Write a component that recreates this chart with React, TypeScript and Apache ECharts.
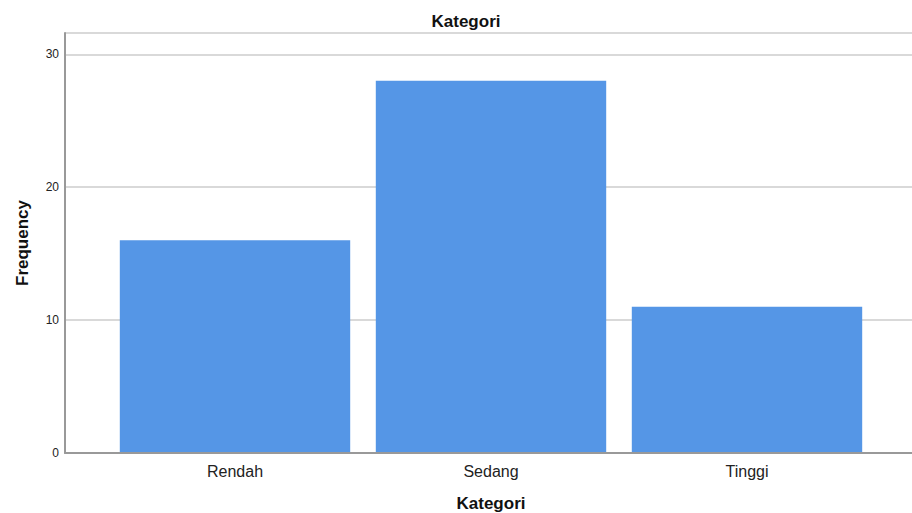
import React, { useEffect, useRef } from "react";
import * as echarts from "echarts";

const categories = ["Rendah", "Sedang", "Tinggi"];
const frequencies = [16, 28, 11];
const yTicks = [0, 10, 20, 30];
const chartTitle = "Kategori";
const xAxisTitle = "Kategori";
const yAxisTitle = "Frequency";

const FONT = "Liberation Sans, Arial, sans-serif";

export default function App() {
  const ref = useRef<HTMLDivElement>(null);
  useEffect(() => {
    const chart = echarts.init(ref.current!, null, { renderer: "svg" });
    const top = 33;
    const bottom = 513 - 453;
    const yMax = 31.6;
    chart.setOption({
      animation: false,
      backgroundColor: "#ffffff",
      title: {
        text: chartTitle,
        left: 461,
        top: 8,
        textAlign: "center",
        textStyle: { fontFamily: FONT, fontSize: 17, fontWeight: "bold", color: "#111" },
      },
      grid: [
        { left: 65, right: 0, top, bottom, containLabel: false, outerBoundsMode: "none" },
        { left: 107, right: 37, top, bottom, containLabel: false, outerBoundsMode: "none" },
      ],
      xAxis: [
        {
          gridIndex: 0,
          type: "category",
          data: categories,
          axisLine: { show: true, lineStyle: { color: "#999", width: 2 } },
          axisTick: { show: false },
          axisLabel: { show: false },
          z: 5,
        },
        {
          gridIndex: 1,
          type: "category",
          data: categories,
          axisLine: { show: false },
          axisTick: { show: false },
          axisLabel: { fontFamily: FONT, fontSize: 16, color: "#222", margin: 10 },
          name: xAxisTitle,
          nameLocation: "middle",
          nameGap: 42,
          nameTextStyle: { fontFamily: FONT, fontSize: 17, fontWeight: "bold", color: "#111" },
        },
      ],
      yAxis: [
        {
          gridIndex: 0,
          type: "value",
          min: 0,
          max: yMax,
          interval: 10,
          axisLine: { show: true, lineStyle: { color: "#999", width: 2 } },
          axisTick: { show: false },
          splitLine: { show: true, lineStyle: { color: "#d9d9d9", width: 2 } },
          axisLabel: {
            fontFamily: FONT,
            fontSize: 12,
            color: "#222",
            margin: 6,
            formatter: (v: number) => (yTicks.includes(v) ? String(v) : ""),
          },
          name: yAxisTitle,
          nameLocation: "middle",
          nameGap: 34,
          nameTextStyle: { fontFamily: FONT, fontSize: 17, fontWeight: "bold", color: "#111" },
        },
        {
          gridIndex: 1,
          type: "value",
          min: 0,
          max: yMax,
          interval: 10,
          show: false,
          splitLine: { show: false },
        },
      ],
      series: [
        {
          type: "bar",
          xAxisIndex: 1,
          yAxisIndex: 1,
          data: frequencies,
          barCategoryGap: "10%",
          itemStyle: { color: "#5596e6" },
        },
      ],
    });
    return () => chart.dispose();
  }, []);
  return (
    <div
      ref={ref}
      style={{ position: "fixed", left: 0, top: 0, width: 912, height: 513 }}
    />
  );
}
